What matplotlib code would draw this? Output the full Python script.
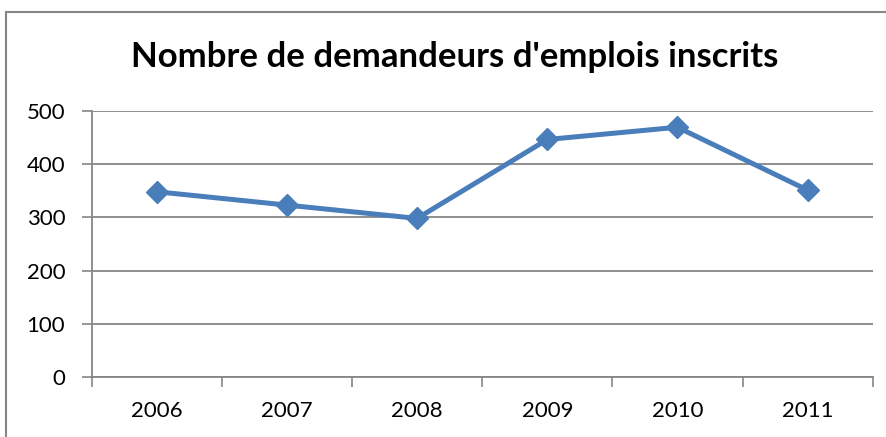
import matplotlib
matplotlib.use('Agg')
import matplotlib.pyplot as plt
from matplotlib.patches import Rectangle

years = ['2006', '2007', '2008', '2009', '2010', '2011']
demandeurs = [348, 323, 298, 446, 469, 351]
y_ticks = [0, 100, 200, 300, 400, 500]
title = "Nombre de demandeurs d'emplois inscrits"

plt.rcParams['font.family'] = ['Lato', 'DejaVu Sans']

line_color = '#4A7EBB'
grid_color = '#868686'

fig = plt.figure(figsize=(8.87, 4.37), dpi=100)
ax = fig.add_axes([91.7 / 887, 1 - 377.3 / 437, 781 / 887, 266.6 / 437])

# outer chart frame (Excel style)
fig.patches.append(Rectangle((6 / 887, -0.1), 2, 1 - 12 / 437 + 0.1,
                             transform=fig.transFigure, fill=False,
                             edgecolor=grid_color, linewidth=1.5))

x = [i + 0.5 for i in range(len(years))]
ax.plot(x, demandeurs, color=line_color, linewidth=3.6, marker='D',
        markersize=11, markerfacecolor=line_color, markeredgecolor=line_color,
        zorder=3)

ax.set_xlim(0, len(years))
ax.set_ylim(0, 500)
ax.set_yticks(y_ticks)
ax.set_xticks(range(len(years) + 1))
ax.set_xticklabels([])
ax.set_xticks(x, minor=True)
ax.set_xticklabels(years, minor=True)
ax.tick_params(axis='x', which='minor', length=0, pad=17, labelsize=16)
ax.tick_params(axis='x', which='major', length=7, width=1.2, color=grid_color)
ax.tick_params(axis='y', length=7, width=1.2, color=grid_color, pad=12,
               labelsize=16)

ax.grid(axis='y', color=grid_color, linewidth=1.3)
ax.set_axisbelow(True)
for side in ['top', 'right']:
    ax.spines[side].set_visible(False)
for side in ['left', 'bottom']:
    ax.spines[side].set_color(grid_color)
    ax.spines[side].set_linewidth(1.3)

fig.text(455 / 887, 1 - 57 / 437, title, ha='center', va='center',
         fontsize=25, fontweight='bold')

fig.savefig('out.png', dpi=100)
